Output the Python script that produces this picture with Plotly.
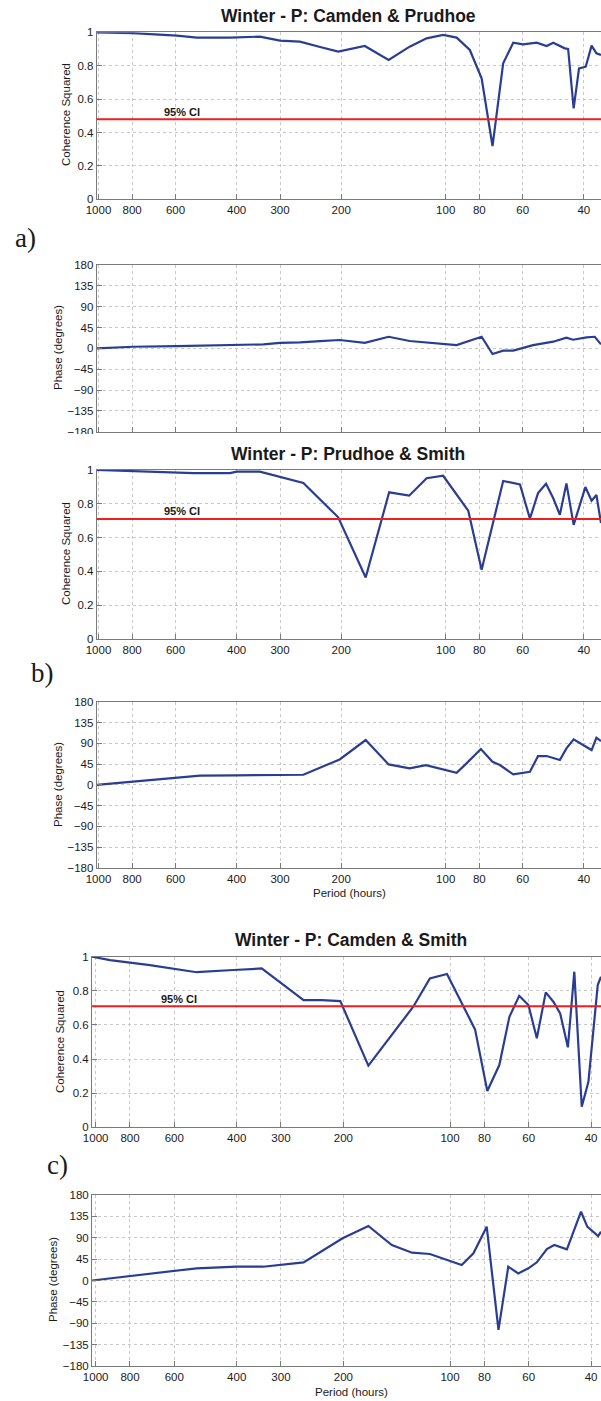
import numpy as np
import plotly.graph_objects as go

W, H = 601, 1401

# ---------------- data (period in hours, value) ----------------
a_coh_period = [1012, 796, 595, 521, 418, 343, 300, 263, 230, 204, 171, 146, 127, 113.5, 101.7, 93, 85.2,
                78.8, 73.3, 68.3, 63.9, 59.8, 54.7, 51.2, 49.0, 45.4, 44.4, 42.8, 41.3, 39.5, 38.0, 36.8, 35.7]
a_coh_value = [1.0, 0.995, 0.98, 0.968, 0.968, 0.974, 0.95, 0.944, 0.912, 0.884, 0.918, 0.834, 0.914, 0.964,
               0.984, 0.968, 0.894, 0.724, 0.319, 0.814, 0.938, 0.928, 0.938, 0.918, 0.938, 0.904, 0.90,
               0.545, 0.784, 0.794, 0.92, 0.874, 0.864]

a_ph_period = [1012, 794, 595, 400, 335, 300, 263, 230, 202, 171, 146, 127, 113.5, 93, 78.8, 73.3, 68.3,
               63.9, 56, 49, 44.9, 43, 39.3, 37.2, 35.7]
a_ph_value = [0, 3.5, 5, 8.6, 8.6, 12, 13, 15.8, 18, 12, 25, 15.8, 13, 7, 25, -12.3, -5,
              -5, 7, 14.4, 23, 18.6, 23.7, 25, 8.6]

b_coh_period = [1012, 848, 595, 533, 418, 400, 343, 300, 257, 204, 170, 145.5, 127.4, 113.5, 101.7, 86.1,
                78.8, 68.3, 61.1, 57.2, 54.2, 51.4, 49.0, 46.9, 44.9, 42.8, 39.6, 38.0, 36.8, 35.7]
b_coh_value = [1.0, 0.994, 0.986, 0.982, 0.982, 0.99, 0.99, 0.957, 0.923, 0.72, 0.364, 0.868, 0.848, 0.951,
               0.966, 0.759, 0.41, 0.935, 0.915, 0.712, 0.863, 0.919, 0.833, 0.735, 0.921, 0.675, 0.899,
               0.818, 0.852, 0.686]

b_ph_period = [1012, 794, 595, 510, 400, 257, 202, 170, 146, 127, 114, 93, 87.1, 79.2, 73.3, 69.8, 63.9,
               57.2, 54.2, 51.2, 46.9, 44.9, 42.8, 40.6, 38.0, 36.8, 35.7]
b_ph_value = [0, 6.8, 15.4, 19.8, 20.6, 21.9, 55, 97, 44.3, 35.7, 42.8, 26.2, 46.5, 77.5, 50, 42.8, 22.7,
              28.4, 62.3, 62.3, 53.7, 79, 98.4, 88.3, 75.3, 102, 94.8]

c_coh_period = [1024, 911, 703, 519, 409, 340, 259, 230, 204, 170, 127, 114, 102, 85, 78.5, 72.6, 68, 63.8,
                60.1, 56.9, 53.7, 51.1, 48.9, 46.5, 44.6, 42.5, 40.7, 38.3, 37.5]
c_coh_value = [1.0, 0.98, 0.951, 0.909, 0.922, 0.931, 0.746, 0.746, 0.74, 0.361, 0.707, 0.873, 0.899, 0.574,
               0.213, 0.365, 0.648, 0.771, 0.717, 0.522, 0.791, 0.736, 0.668, 0.469, 0.912, 0.121, 0.267,
               0.834, 0.883]

c_ph_period = [1024, 750, 591, 519, 400, 337, 259, 201, 170, 146, 128, 114, 92.7, 85.9, 78.8, 73, 68.5,
               64.2, 60.1, 56.9, 53.3, 50.8, 46.8, 42.7, 41, 38.2, 37.5]
c_ph_value = [0, 11.6, 20.6, 25.7, 29, 29, 38, 88.8, 114.7, 74.7, 58.5, 55.8, 32.6, 57.3, 113.3, -104, 29,
              15, 25.7, 38.3, 66.3, 74.7, 65.7, 144.8, 113.3, 93.7, 102.7]

ci_a = 0.48
ci_b = 0.71
ci_c = 0.71

x_tick_vals = [1000, 800, 600, 400, 300, 200, 100, 80, 60, 40]
coh_ticks = [0, 0.2, 0.4, 0.6, 0.8, 1]
ph_ticks = [-180, -135, -90, -45, 0, 45, 90, 135, 180]

titles = ["Winter - P: Camden & Prudhoe", "Winter - P: Prudhoe & Smith", "Winter - P: Camden & Smith"]
letters = ["a)", "b)", "c)"]

# ---------------- styling ----------------
BLUE = "#2a3d94"
RED = "#f01e1e"
GRID = "#c8c8c8"
AXIS = "#7a7a7a"
TXT = "#1a1a1a"
SANS = "Liberation Sans, Arial, sans-serif"

panels = [
    dict(px=a_coh_period, py=a_coh_value, kind="coh", x0=96.7, top=32.3, bot=199.3, xr=(1012, 35.7), xlab=True, ci=ci_a),
    dict(px=a_ph_period, py=a_ph_value, kind="ph", x0=96.7, top=265, bot=431.7, xr=(1012, 35.7), xlab=False),
    dict(px=b_coh_period, py=b_coh_value, kind="coh", x0=96.7, top=470, bot=639, xr=(1012, 35.7), xlab=True, ci=ci_b),
    dict(px=b_ph_period, py=b_ph_value, kind="ph", x0=96.7, top=701.7, bot=868, xr=(1012, 35.7), xlab=True),
    dict(px=c_coh_period, py=c_coh_value, kind="coh", x0=92, top=956.7, bot=1127.3, xr=(1024, 37.5), xlab=True, ci=ci_c),
    dict(px=c_ph_period, py=c_ph_value, kind="ph", x0=92, top=1195, bot=1366, xr=(1024, 37.5), xlab=True),
]

fig = go.Figure()
layout = dict(
    template="none",
    width=W, height=H, autosize=False,
    margin=dict(l=0, r=0, t=0, b=0, pad=0, autoexpand=False),
    paper_bgcolor="white", plot_bgcolor="white", showlegend=False,
    font=dict(family=SANS, size=11.5, color=TXT),
)
shapes = []
annotations = []

for i, p in enumerate(panels, start=1):
    xa = "x" if i == 1 else f"x{i}"
    ya = "y" if i == 1 else f"y{i}"
    fig.add_trace(go.Scatter(x=p["px"], y=p["py"], mode="lines", xaxis=xa, yaxis=ya,
                             line=dict(color=BLUE, width=2.2), hoverinfo="skip"))
    layout[f"xaxis{i}" if i > 1 else "xaxis"] = dict(
        domain=[p["x0"] / W, 1.0], anchor=ya, type="log", automargin=False,
        range=[np.log10(p["xr"][0]), np.log10(p["xr"][1])],
        tickvals=x_tick_vals, ticktext=[str(v) for v in x_tick_vals],
        showticklabels=p["xlab"], ticks="inside", ticklen=5, tickcolor=AXIS,
        showline=True, linecolor=AXIS, linewidth=1, mirror=True,
        showgrid=True, gridcolor=GRID, griddash="dot", gridwidth=1,
        zeroline=False, tickfont=dict(size=11.5, color=TXT),
    )
    if p["kind"] == "coh":
        yr, yt = [0, 1], coh_ticks
    else:
        yr, yt = [-180, 180], ph_ticks
    layout[f"yaxis{i}" if i > 1 else "yaxis"] = dict(
        domain=[1 - p["bot"] / H, 1 - p["top"] / H], anchor=xa, range=yr, automargin=False,
        tickvals=yt, ticks="inside", ticklen=5, tickcolor=AXIS,
        showline=True, linecolor=AXIS, linewidth=1, mirror=False,
        showgrid=True, gridcolor=GRID, griddash="dot", gridwidth=1,
        zeroline=False, tickfont=dict(size=11.5, color=TXT),
    )
    if p["kind"] == "coh":
        shapes.append(dict(type="line", xref=f"{xa} domain", yref=ya, x0=0, x1=1,
                           y0=p["ci"], y1=p["ci"], line=dict(color=RED, width=2)))

# white band where the next sub-figure overlaps the bottom of panel a's phase plot
shapes.append(dict(type="rect", xref="paper", yref="paper", layer="above",
                   x0=30 / W, x1=94 / W, y0=1 - 446 / H, y1=1 - 434 / H,
                   fillcolor="white", line=dict(width=0)))

fig.update_layout(**layout)

# Titles
for t, ypx, xc in zip(titles, [16, 454, 940], [348, 348, 351]):
    annotations.append(dict(text=f"<b>{t}</b>", xref="paper", yref="paper", x=xc / W, y=1 - ypx / H,
                            showarrow=False, xanchor="center", yanchor="middle",
                            font=dict(size=17.5, color=TXT, family=SANS)))

# y axis titles
for txt, xpx, ypx in [("Coherence Squared", 66, 115), ("Phase (degrees)", 58, 348),
                      ("Coherence Squared", 66, 554), ("Phase (degrees)", 58, 785),
                      ("Coherence Squared", 60, 1042), ("Phase (degrees)", 53, 1280)]:
    annotations.append(dict(text=txt, xref="paper", yref="paper", x=xpx / W, y=1 - ypx / H,
                            showarrow=False, textangle=-90, xanchor="center", yanchor="middle",
                            font=dict(size=11.5, color=TXT, family=SANS)))

# 95% CI labels
for xa, ya, xper, yv in [("x", "y", 657, 0.523), ("x3", "y3", 657, 0.757), ("x5", "y5", 661, 0.75)]:
    annotations.append(dict(text="<b>95% CI</b>", xref=xa, yref=ya, x=np.log10(xper), y=yv,
                            showarrow=False, xanchor="left", yanchor="middle",
                            font=dict(size=11, color=TXT, family=SANS)))

# Period labels
for xpx, ypx in [(349, 892.7), (351, 1392)]:
    annotations.append(dict(text="Period (hours)", xref="paper", yref="paper", x=xpx / W, y=1 - ypx / H,
                            showarrow=False, xanchor="center", yanchor="middle",
                            font=dict(size=11.5, color=TXT, family=SANS)))

# panel letters
for txt, xpx, ypx in [("a)", 13, 238), ("b)", 29, 673), ("c)", 45, 1165)]:
    annotations.append(dict(text=txt, xref="paper", yref="paper", x=xpx / W, y=1 - ypx / H,
                            showarrow=False, xanchor="left", yanchor="middle",
                            font=dict(size=27, color=TXT, family="Liberation Serif, serif")))

fig.update_layout(shapes=shapes, annotations=annotations)
fig.write_html("out.html", config={"displayModeBar": False},
               post_script="document.body.style.margin='0px';document.body.style.overflow='hidden';")
